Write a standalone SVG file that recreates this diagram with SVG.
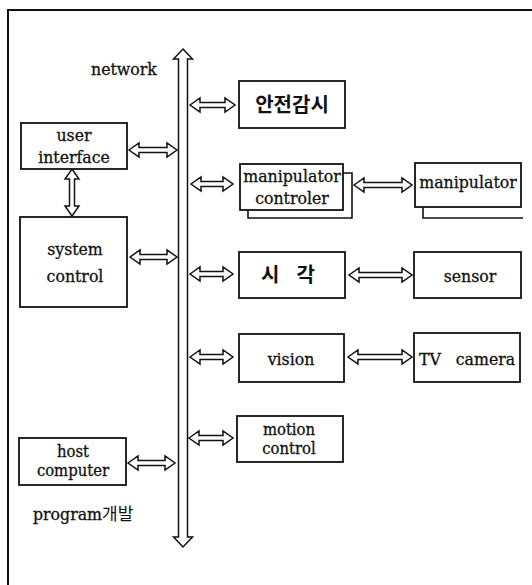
<svg xmlns="http://www.w3.org/2000/svg" width="532" height="585" viewBox="0 0 532 585">
<style>
.box{fill:#fff;stroke:#111;stroke-width:1.8}
.sh{fill:none;stroke:#111;stroke-width:1.6}
.arr{fill:#fff;stroke:#111;stroke-width:1.5;stroke-linejoin:miter}
.t{font-family:"DejaVu Serif Condensed","DejaVu Serif",serif;font-stretch:condensed;font-size:17.5px;fill:#111;stroke:#111;stroke-width:0.3;text-anchor:middle}
.s{font-size:16.5px}
.k{font-family:"Noto Sans CJK KR",sans-serif;font-size:20px;font-weight:700;fill:#111;text-anchor:middle}
.kk{font-family:"Noto Sans CJK KR",sans-serif;font-size:17px;font-stretch:normal;stroke-width:0}
</style>
<rect width="532" height="585" fill="#fff"/>
<polyline points="8,585 8,10 532,10" fill="none" stroke="#111" stroke-width="2"/>
<text class="t" x="124" y="75">network</text>
<text class="t" x="33" y="520" style="text-anchor:start">program<tspan class="kk">개발</tspan></text>
<g id="connectors">
<path id="bus" class="arr" stroke-width="1.8" d="M183,49 L192.5,59 L187.5,59 L187.5,537 L192.5,537 L183,547 L173.5,537 L178.5,537 L178.5,59 L173.5,59 Z"/>
<path class="arr" d="M129,150 L139,143 L139,147.5 L167,147.5 L167,143 L177,150 L167,157 L167,152.5 L139,152.5 L139,157 Z"/>
<path class="arr" d="M130,257 L140,250 L140,254.5 L167,254.5 L167,250 L177,257 L167,264 L167,259.5 L140,259.5 L140,264 Z"/>
<path class="arr" d="M128,463 L138,456 L138,460.5 L165,460.5 L165,456 L175,463 L165,470 L165,465.5 L138,465.5 L138,470 Z"/>
<path class="arr" d="M190,105 L200,98 L200,102.5 L225,102.5 L225,98 L235,105 L225,112 L225,107.5 L200,107.5 L200,112 Z"/>
<path class="arr" d="M191,184 L201,177 L201,181.5 L223,181.5 L223,177 L233,184 L223,191 L223,186.5 L201,186.5 L201,191 Z"/>
<path class="arr" d="M190,274 L200,267 L200,271.5 L223,271.5 L223,267 L233,274 L223,281 L223,276.5 L200,276.5 L200,281 Z"/>
<path class="arr" d="M190,357 L200,350 L200,354.5 L223,354.5 L223,350 L233,357 L223,364 L223,359.5 L200,359.5 L200,364 Z"/>
<path class="arr" d="M189,438 L199,431 L199,435.5 L223,435.5 L223,431 L233,438 L223,445 L223,440.5 L199,440.5 L199,445 Z"/>
<path class="arr" d="M354,185 L364,178 L364,182.5 L402,182.5 L402,178 L412,185 L402,192 L402,187.5 L364,187.5 L364,192 Z"/>
<path class="arr" d="M349,275 L359,268 L359,272.5 L402,272.5 L402,268 L412,275 L402,282 L402,277.5 L359,277.5 L359,282 Z"/>
<path class="arr" d="M348,357 L358,350 L358,354.5 L402,354.5 L402,350 L412,357 L402,364 L402,359.5 L358,359.5 L358,364 Z"/>
<path class="arr" d="M72,169 L79,179 L74.5,179 L74.5,206 L79,206 L72,216 L65,206 L69.5,206 L69.5,179 L65,179 Z"/>
</g>
<g id="user-interface">
<rect class="box" x="21" y="123" width="106" height="46"/>
<text class="t" x="74" y="141">user</text>
<text class="t" x="74" y="163">interface</text>
</g>
<g id="system-control">
<rect class="box" x="20" y="217" width="107" height="90"/>
<text class="t" x="75" y="255">system</text>
<text class="t" x="75" y="282">control</text>
</g>
<g id="host-computer">
<rect class="box" x="19" y="438" width="107" height="47"/>
<text class="t s" x="73" y="457">host</text>
<text class="t s" x="73" y="476">computer</text>
</g>
<g id="safety-monitor">
<rect class="box" x="239" y="81" width="106" height="47"/>
<text class="k" x="292" y="112">안전감시</text>
</g>
<g id="manipulator-controler">
<polyline class="sh" points="248,210 248,218 352,218 352,173 343,173"/>
<rect class="box" x="240" y="164" width="103" height="46"/>
<text class="t" x="292" y="182">manipulator</text>
<text class="t" x="292" y="204">controler</text>
</g>
<g id="manipulator">
<polyline class="sh" points="423,207 423,218 523,218"/>
<rect class="box" x="415" y="163" width="106" height="44"/>
<text class="t" x="468" y="188">manipulator</text>
</g>
<g id="sense">
<rect class="box" x="239" y="252" width="106" height="46"/>
<text class="k" x="288" y="282" style="white-space:pre;word-spacing:4px">시  각</text>
</g>
<g id="sensor">
<rect class="box" x="414" y="252" width="107" height="46"/>
<text class="t" x="470" y="282">sensor</text>
</g>
<g id="vision">
<rect class="box" x="239" y="334" width="105" height="48"/>
<text class="t" x="291" y="365">vision</text>
</g>
<g id="tv-camera">
<rect class="box" x="414" y="333" width="106" height="49"/>
<text class="t" x="467" y="365" style="white-space:pre">TV   camera</text>
</g>
<g id="motion-control">
<rect class="box" x="237" y="416" width="106" height="46"/>
<text class="t s" x="289" y="435">motion</text>
<text class="t s" x="289" y="454">control</text>
</g>
</svg>
